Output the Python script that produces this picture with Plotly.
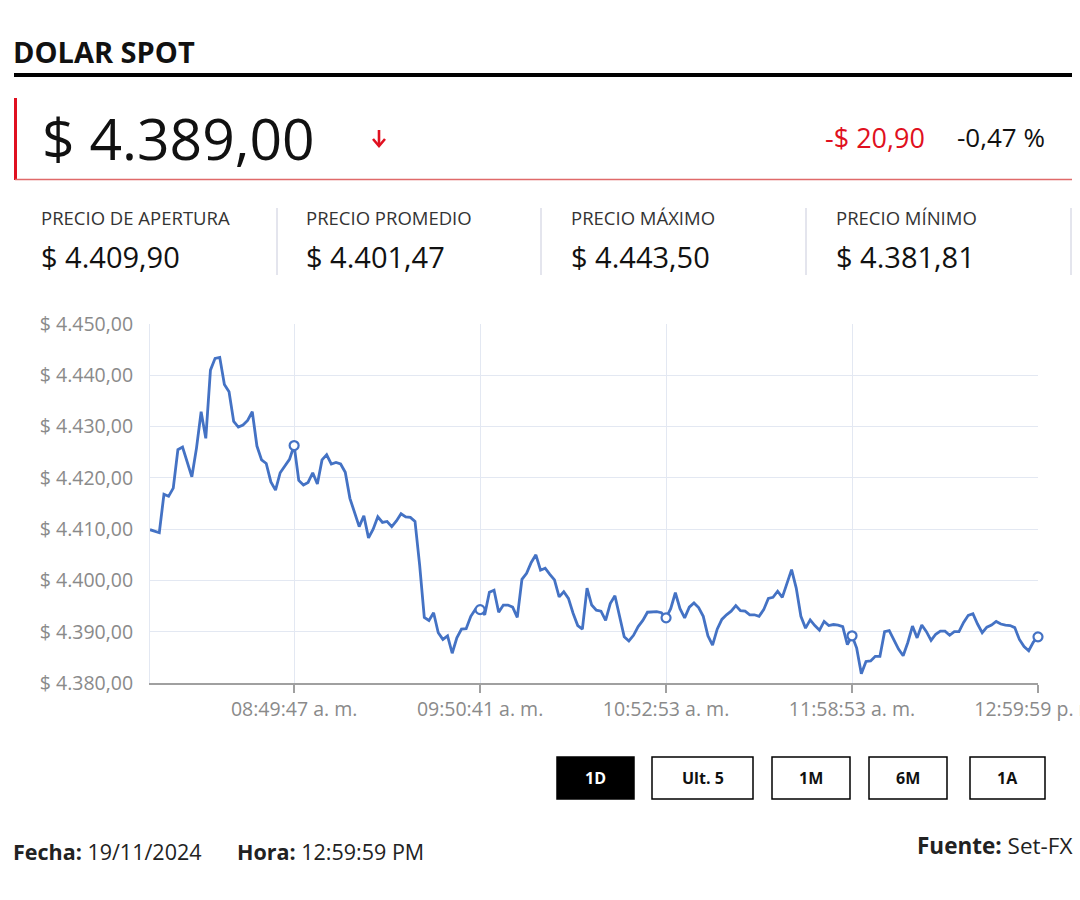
import plotly.graph_objects as go

# ---------------- data ----------------
prices = [
    4409.9, 4409.6, 4409.3, 4416.8, 4416.4, 4418.0, 4425.5, 4426.0, 4423.1, 4420.2,
    4425.8, 4432.9, 4427.7, 4441.0, 4443.3, 4443.5, 4438.2, 4436.8, 4431.0, 4429.9,
    4430.3, 4431.2, 4432.9, 4426.2, 4423.5, 4422.8, 4419.2, 4417.6, 4421.0, 4422.4,
    4423.6, 4426.3, 4419.5, 4418.6, 4419.1, 4421.0, 4418.8, 4423.5, 4424.5, 4422.7,
    4423.0, 4422.7, 4421.1, 4416.0, 4413.0, 4410.5, 4412.6, 4408.3, 4410.0, 4412.4,
    4411.3, 4411.5, 4410.5, 4411.6, 4413.0, 4412.4, 4412.3, 4411.5, 4403.0, 4392.8,
    4392.2, 4393.7, 4389.8, 4388.5, 4389.2, 4385.8, 4388.8, 4390.5, 4390.6, 4393.0,
    4394.4, 4394.3, 4393.3, 4397.7, 4398.1, 4393.8, 4395.2, 4395.2, 4394.8, 4392.8,
    4400.2, 4401.4, 4403.5, 4405.0, 4402.0, 4402.4, 4401.2, 4400.1, 4396.8, 4397.8,
    4396.5, 4393.6, 4391.2, 4390.5, 4398.5, 4395.2, 4394.2, 4394.0, 4392.2, 4395.5,
    4397.0, 4393.0, 4389.0, 4388.2, 4389.3, 4391.0, 4392.2, 4393.8, 4393.8, 4393.9,
    4393.7, 4392.7, 4394.5, 4397.6, 4394.5, 4392.7, 4394.8, 4395.6, 4394.7, 4393.0,
    4389.2, 4387.4, 4390.5, 4392.4, 4393.3, 4394.0, 4395.1, 4394.1, 4394.0, 4393.3,
    4393.3, 4393.0, 4394.3, 4396.5, 4396.7, 4397.9, 4396.7, 4399.5, 4402.1, 4398.5,
    4393.0, 4390.7, 4392.3, 4391.2, 4390.3, 4392.0, 4391.2, 4391.4, 4391.3, 4391.0,
    4387.5, 4389.2, 4386.8, 4381.8, 4384.2, 4384.3, 4385.2, 4385.2, 4390.0, 4390.2,
    4388.5, 4386.6, 4385.3, 4387.9, 4391.1, 4388.8, 4391.3, 4390.0, 4388.3, 4389.5,
    4390.1, 4390.1, 4389.3, 4390.0, 4390.0, 4391.8, 4393.2, 4393.5, 4391.5, 4389.8,
    4390.9, 4391.3, 4392.0, 4391.5, 4391.3, 4391.2, 4390.8, 4388.5, 4387.1, 4386.3,
    4388.0, 4389.0,
]
x_index = list(range(len(prices)))

x_tick_index = [31, 71, 111, 151, 191]
x_tick_labels = ["08:49:47 a. m.", "09:50:41 a. m.", "10:52:53 a. m.",
                 "11:58:53 a. m.", "12:59:59 p. m."]

y_ticks = [4380, 4390, 4400, 4410, 4420, 4430, 4440, 4450]

title = "DOLAR SPOT"
last_price = "$ 4.389,00"
change_abs = "-$ 20,90"
change_pct = "-0,47 %"
stat_labels = ["PRECIO DE APERTURA", "PRECIO PROMEDIO", "PRECIO MÁXIMO", "PRECIO MÍNIMO"]
stat_values = ["$ 4.409,90", "$ 4.401,47", "$ 4.443,50", "$ 4.381,81"]
buttons = ["1D", "Ult. 5", "1M", "6M", "1A"]
fecha = "19/11/2024"
hora = "12:59:59 PM"
fuente = "Set-FX"


def fmt_peso(v):
    s = f"{v:,.2f}"
    s = s.replace(",", "X").replace(".", ",").replace("X", ".")
    return "$ " + s


# ---------------- geometry helpers ----------------
W, H = 1080, 900
L, R, T, B = 150, 1038, 324, 683


def fx(x):
    return (x - L) / (R - L)


def fy(y):
    return (B - y) / (B - T)


FONT = "Open Sans"
LINE = "#4472c4"
RED = "#e01020"

fig = go.Figure()
fig.add_trace(go.Scatter(
    x=x_index, y=prices, mode="lines",
    line=dict(color=LINE, width=2.8), hoverinfo="skip", showlegend=False,
))
fig.add_trace(go.Scatter(
    x=x_tick_index, y=[prices[i] for i in x_tick_index], mode="markers",
    marker=dict(symbol="circle", size=9, color="white", line=dict(color=LINE, width=2.2)),
    hoverinfo="skip", showlegend=False, cliponaxis=False,
))

fig.update_layout(
    width=W, height=H,
    margin=dict(l=L, r=W - R, t=T, b=H - B, autoexpand=False),
    paper_bgcolor="white", plot_bgcolor="white",
    font=dict(family=FONT, color="#222"),
    showlegend=False,
)
fig.update_xaxes(
    range=[0, len(prices) - 1],
    tickvals=x_tick_index, ticktext=x_tick_labels,
    showgrid=True, gridcolor="#e3e8f2", gridwidth=1,
    showline=True, linecolor="#a0a0a0", linewidth=1.5,
    ticks="outside", ticklen=8, tickcolor="#a0a0a0", tickwidth=1.5,
    tickfont=dict(size=19.5, color="#8a8a8a", family=FONT),
    ticklabeloverflow="allow", automargin=False,
    zeroline=False, fixedrange=True,
)
fig.update_yaxes(
    range=[4380, 4450],
    tickvals=y_ticks, ticktext=[fmt_peso(v) for v in y_ticks],
    showgrid=True, gridcolor="#e3e8f2", gridwidth=1,
    showline=True, linecolor="#e3e8f2", linewidth=1,
    ticks="", ticklabelstandoff=12, automargin=False,
    tickfont=dict(size=19.5, color="#8a8a8a", family=FONT),
    zeroline=False, fixedrange=True,
)

ann = []
shapes = []


def text(x, y, s, size, color="#111", anchor="left", yanchor="middle", family=FONT):
    ann.append(dict(x=fx(x), y=fy(y), xref="paper", yref="paper", text=s,
                    showarrow=False, xanchor=anchor, yanchor=yanchor,
                    font=dict(size=size, color=color, family=family)))


def line(x0, y0, x1, y1, color, width):
    shapes.append(dict(type="line", xref="paper", yref="paper",
                       x0=fx(x0), y0=fy(y0), x1=fx(x1), y1=fy(y1),
                       line=dict(color=color, width=width)))


# header
text(11, 52, f"<b>{title}</b>", 29, "#111")
line(14, 75, 1072, 75, "#000", 4)
line(15.5, 98, 15.5, 180, RED, 3)
line(15, 179.5, 1072, 179.5, "#e06a6a", 1.5)
text(40, 138, last_price, 57, "#111")
# down arrow icon
line(379, 130, 379, 146, RED, 2.6)
shapes.append(dict(type="path", xref="paper", yref="paper",
                   path=f"M {fx(373)},{fy(139)} L {fx(379)},{fy(146)} L {fx(385)},{fy(139)}",
                   line=dict(color=RED, width=2.6)))
text(927, 137, change_abs, 27, RED, anchor="right")
text(1047, 137, change_pct, 26, "#111", anchor="right")

# stats row
col_x = [41, 306, 571, 836]
for cx, lab, val in zip(col_x, stat_labels, stat_values):
    text(cx - 2, 217, lab, 18.5, "#333")
    text(cx - 2, 256, val, 29, "#111")
for dx in [277, 541, 806, 1071]:
    line(dx, 208, dx, 275, "#c9cbdc", 1)

# range buttons
btn_x = [(557, 634), (652, 753), (772, 850), (869, 947), (970, 1045)]
for (x0, x1), lab in zip(btn_x, buttons):
    active = lab == "1D"
    shapes.append(dict(type="rect", xref="paper", yref="paper",
                       x0=fx(x0), x1=fx(x1), y0=fy(757), y1=fy(799),
                       line=dict(color="#000", width=1.5),
                       fillcolor="#000" if active else "white"))
    text((x0 + x1) / 2, 778, f"<b>{lab}</b>", 16, "white" if active else "#111", anchor="center")

# footer
text(11, 851, f"<b>Fecha:</b> {fecha}", 21.5, "#222")
text(235, 851, f"<b>Hora:</b> {hora}", 21.5, "#222")
text(1074, 845, f"<b>Fuente:</b> {fuente}", 22.5, "#222", anchor="right")

fig.update_layout(annotations=ann, shapes=shapes)

fig.write_html("out.html", config={"displayModeBar": False})
